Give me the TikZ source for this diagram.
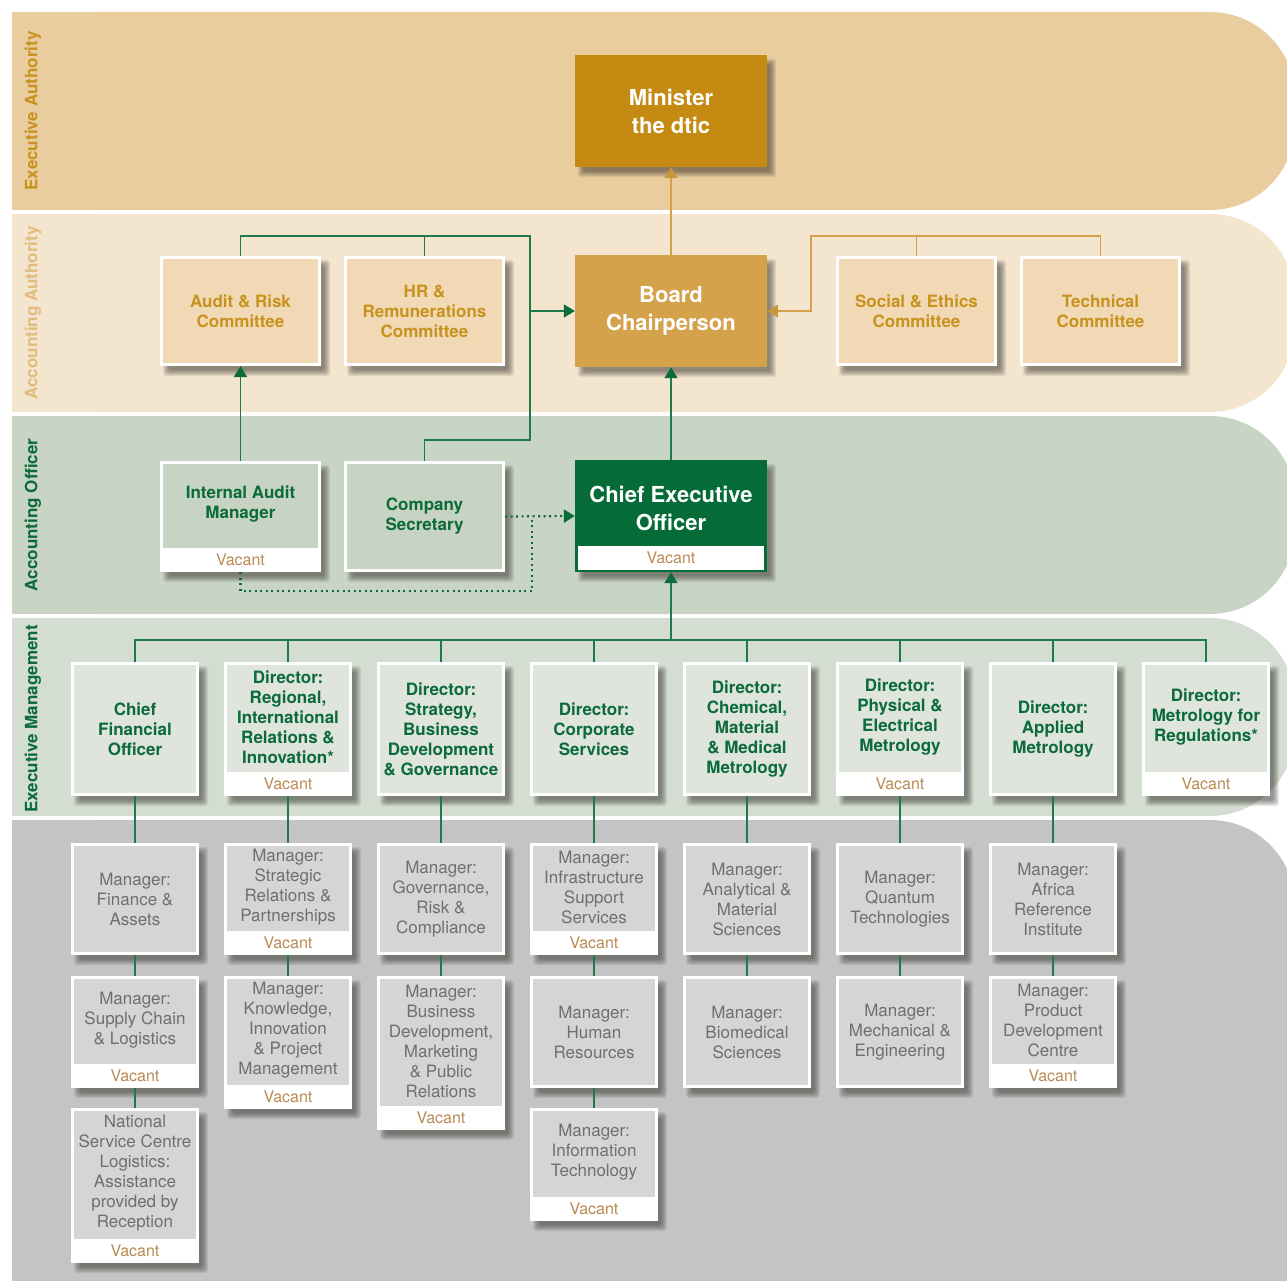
\documentclass[tikz,border=0pt]{standalone}
\usepackage{fontspec}
\setmainfont{TeX Gyre Heros}
\usetikzlibrary{arrows.meta}
\pgfdeclarelayer{bands}
\pgfdeclarelayer{shadows}
\pgfsetlayers{bands,shadows,main}
\definecolor{bandA}{HTML}{E9CD9E}
\definecolor{bandB}{HTML}{F4E5CE}
\definecolor{bandC}{HTML}{C9D5C4}
\definecolor{bandD}{HTML}{D4DDD1}
\definecolor{bandE}{HTML}{C4C4C6}
\definecolor{minfill}{HTML}{C58A11}
\definecolor{boardfill}{HTML}{D4A24B}
\definecolor{commfill}{HTML}{F0D9B4}
\definecolor{commtext}{HTML}{C8921E}
\definecolor{labB}{HTML}{E2BC7E}
\definecolor{aofill}{HTML}{C8D4C3}
\definecolor{dkgreen}{HTML}{0B6B3A}
\definecolor{ceogreen}{HTML}{046B39}
\definecolor{dirfill}{HTML}{DFE4DC}
\definecolor{mgrfill}{HTML}{D5D5D6}
\definecolor{mgrtext}{HTML}{6E6F72}
\definecolor{vactext}{HTML}{B98B54}
\definecolor{linegreen}{HTML}{1F7A4B}
\definecolor{goldl}{HTML}{D4A24B}
\definecolor{goldtip}{HTML}{C9963A}
\definecolor{shcol}{HTML}{2E2B26}
\newcommand\obox[6]{%
  \node[#2, minimum height={#5-#4-3}] (#1) at (#3,{(#4+#5)/2}) {};
  \node[#2 text] (#1-t) at (#3,{(#4+#5)/2}) {#6};}
\newcommand\obvac[6]{%
  \node[#2, minimum height={#5-#4-3}] (#1) at (#3,{(#4+#5)/2}) {};
  \node[#2 text] (#1-t) at (#3,{(#4+#5-24)/2}) {#6};
  \node[#2 vac] (#1-v) at (#3,{#5-12}) {Vacant};}
\begin{document}
\begin{tikzpicture}[x=1pt,y=-1pt,
  bigbox/.style={inner sep=0, minimum width=192pt, minimum height=112pt},
  bigtext/.style={font=\fontsize{22}{28}\selectfont\bfseries, text=white, align=center, inner sep=0},
  vac/.style={fill=white, inner sep=0, minimum height=24pt, font=\fontsize{16}{18}\selectfont, text=vactext},
  comm/.style={fill=commfill, draw=white, line width=3pt, minimum width=158pt, inner sep=0},
  comm text/.style={font=\fontsize{17}{20}\selectfont\bfseries, text=commtext, align=center, inner sep=0},
  ao/.style={comm, fill=aofill},
  ao text/.style={comm text, text=dkgreen},
  ao vac/.style={vac, minimum width=161pt},
  dir/.style={fill=dirfill, draw=white, line width=3pt, minimum width=125pt, inner sep=0},
  dir text/.style={font=\fontsize{17}{20}\selectfont\bfseries, text=dkgreen, align=center, inner sep=0},
  dir vac/.style={vac, minimum width=128pt},
  mgr/.style={dir, fill=mgrfill},
  mgr text/.style={font=\fontsize{17}{20}\selectfont, text=mgrtext, align=center, inner sep=0},
  mgr vac/.style={vac, minimum width=128pt},
  lab/.style={rotate=90, font=\fontsize{17}{20}\selectfont\bfseries, inner sep=0},
  shadowpart/.style={fill=shcol, fill opacity=0.095, rounded corners=3pt},
  gline/.style={draw=linegreen, line width=1.4pt},
  garrow/.style={gline, -{Triangle[width=13pt,length=11pt,color=dkgreen]}},
  goldline/.style={draw=goldl, line width=1.4pt},
  goldarrow/.style={goldline, -{Triangle[width=13pt,length=11pt,color=goldtip]}},
  dotline/.style={draw=dkgreen, line width=2.2pt, dash pattern=on 2.2pt off 3.3pt},
  dotarrow/.style={dotline, -{Triangle[width=13pt,length=11pt,color=dkgreen]}}
]
\useasboundingbox (0,0) rectangle (1287,1281);
\begin{pgfonlayer}{bands}
\fill[white] (0,0) rectangle (1287,1281);
\begin{scope}
\clip (0,0) rectangle (1287,1281);
\fill[bandA, rounded corners=85pt] (12,12) rectangle (1295,210);
\fill[bandA] (12,12) rectangle (300,210);
\fill[bandB, rounded corners=85pt] (12,214) rectangle (1295,412);
\fill[bandB] (12,214) rectangle (300,412);
\fill[bandC, rounded corners=85pt] (12,416) rectangle (1295,614);
\fill[bandC] (12,416) rectangle (300,614);
\fill[bandD, rounded corners=85pt] (12,618) rectangle (1295,816);
\fill[bandD] (12,618) rectangle (300,816);
\fill[bandE, rounded corners=85pt] (12,820) rectangle (1295,1400);
\fill[bandE] (12,820) rectangle (300,1400);
\end{scope}
\end{pgfonlayer}

% band labels
\node[lab, text=commtext] (labEA) at (33,111) {Executive Authority};
\node[lab, text=labB] (labAA) at (33,313) {Accounting Authority};
\node[lab, text=dkgreen] (labAO) at (33,515) {Accounting Officer};
\node[lab, text=dkgreen] (labEM) at (33,719) {Executive Management};

% top
\node[bigbox, fill=minfill, bigtext] (min) at (671,111) {Minister\\the dtic};
\node[bigbox, fill=boardfill, bigtext] (board) at (671,311) {Board\\Chairperson};

\obox{audit}{comm}{240.5}{256}{366}{Audit \& Risk\\Committee}
\obox{hr}{comm}{424.5}{256}{366}{HR \&\\Remunerations\\Committee}
\obox{social}{comm}{916.5}{256}{366}{Social \& Ethics\\Committee}
\obox{tech}{comm}{1100.5}{256}{366}{Technical\\Committee}

\obvac{iam}{ao}{240.5}{461}{572}{Internal Audit\\Manager}
\obox{csec}{ao}{424.5}{461}{572}{Company\\Secretary}

\node[bigbox, fill=ceogreen] (ceo) at (671,516) {};
\node[bigtext] (ceo-t) at (671,508) {Chief Executive\\Officer};
\node[vac, minimum width=186pt] (ceo-v) at (671,558) {Vacant};

% directors
\obox{d1}{dir}{135}{662}{796}{Chief\\Financial\\Officer}
\obvac{d2}{dir}{288}{662}{796}{Director:\\Regional,\\International\\Relations \&\\Innovation*}
\obox{d3}{dir}{441}{662}{796}{Director:\\Strategy,\\Business\\Development\\\& Governance}
\obox{d4}{dir}{594}{662}{796}{Director:\\Corporate\\Services}
\obox{d5}{dir}{747}{662}{796}{Director:\\Chemical,\\Material\\\& Medical\\Metrology}
\obvac{d6}{dir}{900}{662}{796}{Director:\\Physical \&\\Electrical\\Metrology}
\obox{d7}{dir}{1053}{662}{796}{Director:\\Applied\\Metrology}
\obvac{d8}{dir}{1206}{662}{796}{Director:\\Metrology for\\Regulations*}

% managers
\obox{m1a}{mgr}{135}{843}{955}{Manager:\\Finance \&\\Assets}
\obvac{m1b}{mgr}{135}{976}{1088}{Manager:\\Supply Chain\\\& Logistics}
\obvac{m1c}{mgr}{135}{1108}{1263}{National\\Service Centre\\Logistics:\\Assistance\\provided by\\Reception}
\obvac{m2a}{mgr}{288}{843}{955}{Manager:\\Strategic\\Relations \&\\Partnerships}
\obvac{m2b}{mgr}{288}{976}{1109}{Manager:\\Knowledge,\\Innovation\\\& Project\\Management}
\obox{m3a}{mgr}{441}{843}{955}{Manager:\\Governance,\\Risk \&\\Compliance}
\obvac{m3b}{mgr}{441}{976}{1130}{Manager:\\Business\\Development,\\Marketing\\\& Public\\Relations}
\obvac{m4a}{mgr}{594}{843}{955}{Manager:\\Infrastructure\\Support\\Services}
\obox{m4b}{mgr}{594}{976}{1088}{Manager:\\Human\\Resources}
\obvac{m4c}{mgr}{594}{1108}{1221}{Manager:\\Information\\Technology}
\obox{m5a}{mgr}{747}{843}{955}{Manager:\\Analytical \&\\Material\\Sciences}
\obox{m5b}{mgr}{747}{976}{1088}{Manager:\\Biomedical\\Sciences}
\obox{m6a}{mgr}{900}{843}{955}{Manager:\\Quantum\\Technologies}
\obox{m6b}{mgr}{900}{976}{1088}{Manager:\\Mechanical \&\\Engineering}
\obox{m7a}{mgr}{1053}{843}{955}{Manager:\\Africa\\Reference\\Institute}
\obvac{m7b}{mgr}{1053}{976}{1088}{Manager:\\Product\\Development\\Centre}

% soft drop shadows behind every box
\begin{pgfonlayer}{shadows}
\foreach \n in {min,board,audit,hr,social,tech,iam,csec,ceo,d1,d2,d3,d4,d5,d6,d7,d8,m1a,m1b,m1c,m2a,m2b,m3a,m3b,m4a,m4b,m4c,m5a,m5b,m6a,m6b,m7a,m7b}
  \foreach \e in {0,...,6}
    \fill[shadowpart] ([shift={({3+\e},{4+\e})}]\n.north west) rectangle ([shift={({9-\e},{10-\e})}]\n.south east);
\end{pgfonlayer}

% connectors
\coordinate (ja) at (530,236);
\coordinate (jb) at (530,440);
\draw[gline] (audit.north) |- (ja) -- (jb) -| (csec.north);
\draw[gline] (hr.north) -- (hr.north |- ja);
\draw[garrow] (ja |- board.west) -- (board.west);
\draw[garrow] (iam.north) -- (audit.south);
\draw[garrow] (ceo.north) -- (board.south);
\draw[goldarrow] (board.north) -- (min.south);
\coordinate (ka) at (811,236);
\draw[goldarrow] (social.north) |- (ka) |- (board.east);
\draw[goldline] (tech.north) |- (ka);
\coordinate (da) at (532,591);
\draw[dotarrow] (csec.east) -- (ceo.west);
\draw[dotline] (iam-v.south) |- (da) -- (da |- csec.east);
\coordinate (bus) at (671,640);
\draw[garrow] (bus) -- (ceo.south);
\draw[gline] (d1.north) |- (bus) -| (d8.north);
\foreach \d in {d2,d3,d4,d5,d6,d7} \draw[gline] (\d.north) -- (\d.north |- bus);
\draw[gline] (d1.south) -- (m1a.north) (m1a.south) -- (m1b.north) (m1b.south) -- (m1c.north);
\draw[gline] (d2.south) -- (m2a.north) (m2a.south) -- (m2b.north);
\draw[gline] (d3.south) -- (m3a.north) (m3a.south) -- (m3b.north);
\draw[gline] (d4.south) -- (m4a.north) (m4a.south) -- (m4b.north) (m4b.south) -- (m4c.north);
\draw[gline] (d5.south) -- (m5a.north) (m5a.south) -- (m5b.north);
\draw[gline] (d6.south) -- (m6a.north) (m6a.south) -- (m6b.north);
\draw[gline] (d7.south) -- (m7a.north) (m7a.south) -- (m7b.north);
\end{tikzpicture}
\end{document}
